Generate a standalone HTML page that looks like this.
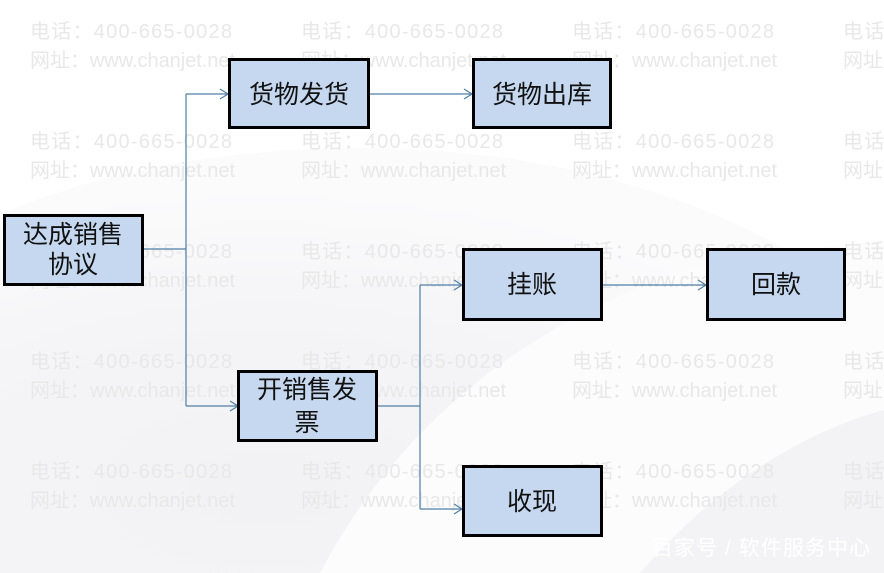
<!DOCTYPE html>
<html><head><meta charset="utf-8"><style>
html,body{margin:0;padding:0;background:#fff;}
svg{display:block;}
.wm{font-family:"Liberation Sans","Noto Sans CJK SC",sans-serif;font-size:20px;font-weight:normal;fill:#e8e8e8;}
.bx{fill:#c6d8ef;stroke:#000;stroke-width:3;}
.t{font-family:"Liberation Sans","Noto Sans CJK SC",sans-serif;font-size:25px;fill:#111;text-anchor:middle;dominant-baseline:central;}
.ln{stroke:#4f7fa6;stroke-width:1.2;fill:none;}
</style></head><body>
<svg width="884" height="573" viewBox="0 0 884 573" xmlns="http://www.w3.org/2000/svg">
<defs>
<radialGradient id="g1" cx="0.3" cy="0.8" r="0.7">
<stop offset="0" stop-color="#f2f2f4"/><stop offset="0.6" stop-color="#f5f5f7"/><stop offset="1" stop-color="#fbfbfc"/>
</radialGradient>
</defs>
<rect width="884" height="573" fill="#fff"/>
<path d="M0 215 C120 160 320 130 520 160 C700 190 830 260 884 330 L884 573 L0 573 Z" fill="url(#g1)"/>
<path d="M320 573 C400 420 540 310 720 260 L884 240 L884 573 Z" fill="#fcfcfd"/>
<path d="M640 573 C720 480 810 430 884 410 L884 573 Z" fill="#f3f3f5"/>

<g class="wm">
<text x="30" y="38" textLength="202" lengthAdjust="spacing">电话：400-665-0028</text><text x="30" y="67" textLength="205" lengthAdjust="spacing">网址：www.chanjet.net</text>
<text x="301" y="38" textLength="202" lengthAdjust="spacing">电话：400-665-0028</text><text x="301" y="67" textLength="205" lengthAdjust="spacing">网址：www.chanjet.net</text>
<text x="572" y="38" textLength="202" lengthAdjust="spacing">电话：400-665-0028</text><text x="572" y="67" textLength="205" lengthAdjust="spacing">网址：www.chanjet.net</text>
<text x="843" y="38" textLength="202" lengthAdjust="spacing">电话：400-665-0028</text><text x="843" y="67" textLength="205" lengthAdjust="spacing">网址：www.chanjet.net</text>
<text x="30" y="148" textLength="202" lengthAdjust="spacing">电话：400-665-0028</text><text x="30" y="177" textLength="205" lengthAdjust="spacing">网址：www.chanjet.net</text>
<text x="301" y="148" textLength="202" lengthAdjust="spacing">电话：400-665-0028</text><text x="301" y="177" textLength="205" lengthAdjust="spacing">网址：www.chanjet.net</text>
<text x="572" y="148" textLength="202" lengthAdjust="spacing">电话：400-665-0028</text><text x="572" y="177" textLength="205" lengthAdjust="spacing">网址：www.chanjet.net</text>
<text x="843" y="148" textLength="202" lengthAdjust="spacing">电话：400-665-0028</text><text x="843" y="177" textLength="205" lengthAdjust="spacing">网址：www.chanjet.net</text>
<text x="30" y="258" textLength="202" lengthAdjust="spacing">电话：400-665-0028</text><text x="30" y="287" textLength="205" lengthAdjust="spacing">网址：www.chanjet.net</text>
<text x="301" y="258" textLength="202" lengthAdjust="spacing">电话：400-665-0028</text><text x="301" y="287" textLength="205" lengthAdjust="spacing">网址：www.chanjet.net</text>
<text x="572" y="258" textLength="202" lengthAdjust="spacing">电话：400-665-0028</text><text x="572" y="287" textLength="205" lengthAdjust="spacing">网址：www.chanjet.net</text>
<text x="843" y="258" textLength="202" lengthAdjust="spacing">电话：400-665-0028</text><text x="843" y="287" textLength="205" lengthAdjust="spacing">网址：www.chanjet.net</text>
<text x="30" y="368" textLength="202" lengthAdjust="spacing">电话：400-665-0028</text><text x="30" y="397" textLength="205" lengthAdjust="spacing">网址：www.chanjet.net</text>
<text x="301" y="368" textLength="202" lengthAdjust="spacing">电话：400-665-0028</text><text x="301" y="397" textLength="205" lengthAdjust="spacing">网址：www.chanjet.net</text>
<text x="572" y="368" textLength="202" lengthAdjust="spacing">电话：400-665-0028</text><text x="572" y="397" textLength="205" lengthAdjust="spacing">网址：www.chanjet.net</text>
<text x="843" y="368" textLength="202" lengthAdjust="spacing">电话：400-665-0028</text><text x="843" y="397" textLength="205" lengthAdjust="spacing">网址：www.chanjet.net</text>
<text x="30" y="478" textLength="202" lengthAdjust="spacing">电话：400-665-0028</text><text x="30" y="507" textLength="205" lengthAdjust="spacing">网址：www.chanjet.net</text>
<text x="301" y="478" textLength="202" lengthAdjust="spacing">电话：400-665-0028</text><text x="301" y="507" textLength="205" lengthAdjust="spacing">网址：www.chanjet.net</text>
<text x="572" y="478" textLength="202" lengthAdjust="spacing">电话：400-665-0028</text><text x="572" y="507" textLength="205" lengthAdjust="spacing">网址：www.chanjet.net</text>
<text x="843" y="478" textLength="202" lengthAdjust="spacing">电话：400-665-0028</text><text x="843" y="507" textLength="205" lengthAdjust="spacing">网址：www.chanjet.net</text>
</g>

<!-- connectors -->
<g class="ln">
<path d="M143 249 H186 M186 94 V406 M186 94 H228 M186 406 H238"/>
<path d="M370 94 H472"/>
<path d="M378 406 H420 M420 285 V509 M420 285 H462 M420 509 H462"/>
<path d="M603 285 H706"/>
<path d="M220 89 L228 94 L220 99"/>
<path d="M464 89 L472 94 L464 99"/>
<path d="M230 401 L238 406 L230 411"/>
<path d="M454 280 L462 285 L454 290"/>
<path d="M454 504 L462 509 L454 514"/>
<path d="M698 280 L706 285 L698 290"/>
</g>

<!-- boxes -->
<rect class="bx" x="4.5" y="215.5" width="138" height="69"/>
<text class="t" x="73" y="235">达成销售</text>
<text class="t" x="73" y="265">协议</text>

<rect class="bx" x="229.5" y="59.5" width="139" height="68"/>
<text class="t" x="299" y="95">货物发货</text>

<rect class="bx" x="473.5" y="59.5" width="137" height="68"/>
<text class="t" x="542" y="95">货物出库</text>

<rect class="bx" x="238.5" y="371.5" width="138" height="69"/>
<text class="t" x="307" y="390">开销售发</text>
<text class="t" x="307" y="423">票</text>

<rect class="bx" x="463.5" y="249.5" width="138" height="70"/>
<text class="t" x="532" y="285">挂账</text>

<rect class="bx" x="707.5" y="249.5" width="137" height="70"/>
<text class="t" x="776" y="285">回款</text>

<rect class="bx" x="463.5" y="466.5" width="138" height="69"/>
<text class="t" x="532" y="502">收现</text>

<text x="652" y="555" textLength="218" lengthAdjust="spacing" style="font-family:'Liberation Sans','Noto Sans CJK SC',sans-serif;font-size:21px;fill:#fff;">百家号 / 软件服务中心</text>
</svg>
</body></html>
